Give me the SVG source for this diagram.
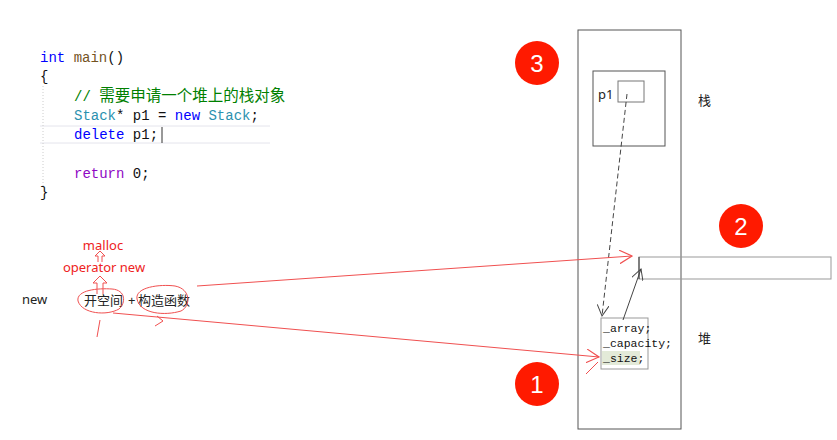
<svg xmlns="http://www.w3.org/2000/svg" width="837" height="440" viewBox="0 0 837 440">
<defs>
<style>
.code{font-family:"Liberation Mono","DejaVu Sans Mono","Noto Sans CJK SC",monospace;font-size:14px}
.lbl{font-family:"Noto Sans","Liberation Sans","Noto Sans CJK SC",sans-serif;font-size:13px;fill:#222}
.red{fill:#ee2222}
.mono{font-family:"Liberation Mono","DejaVu Sans Mono",monospace;font-size:11.5px;fill:#111}
.box{fill:none;stroke:#555;stroke-width:1}
.rl{fill:none;stroke:#f05050;stroke-width:1}
.num{font-family:"Liberation Sans","Noto Sans",sans-serif;font-size:24px;fill:#fff;text-anchor:middle}
</style>
<marker id="ah" viewBox="0 0 12 12" refX="11" refY="6" markerWidth="12" markerHeight="12" markerUnits="userSpaceOnUse" orient="auto">
<path d="M0,0 L11,6 L0,12" fill="none" stroke="#444" stroke-width="1"/>
</marker>
<marker id="rh" viewBox="0 0 12 12" refX="11" refY="6" markerWidth="14" markerHeight="14" markerUnits="userSpaceOnUse" orient="auto">
<path d="M0,0 L11,6 L0,12" fill="none" stroke="#f05050" stroke-width="1"/>
</marker>
</defs>
<rect width="837" height="440" fill="#fff"/>

<g id="code">
<line x1="40" y1="126" x2="270" y2="126" stroke="#e4e4ec"/>
<line x1="40" y1="143" x2="270" y2="143" stroke="#e4e4ec"/>
<line x1="43" y1="86" x2="43" y2="186" stroke="#ccc" stroke-dasharray="1,2"/>
<text class="code" x="40" y="62"><tspan fill="#0000ff">int</tspan> <tspan fill="#74531f">main</tspan><tspan fill="#111">()</tspan></text>
<text class="code" x="40" y="81" fill="#111">{</text>
<text class="code" x="74" y="101" fill="#008000">// <tspan font-size="15.5" font-family="Noto Sans CJK SC,sans-serif">需要申请一个堆上的栈对象</tspan></text>
<text class="code" x="74" y="120"><tspan fill="#2b91af">Stack</tspan><tspan fill="#111">* p1 = </tspan><tspan fill="#0000ff">new</tspan> <tspan fill="#2b91af">Stack</tspan><tspan fill="#111">;</tspan></text>
<text class="code" x="74" y="139"><tspan fill="#0000ff">delete</tspan><tspan fill="#111"> p1;</tspan></text>
<line x1="162" y1="127" x2="162" y2="143" stroke="#333"/>
<text class="code" x="74" y="178"><tspan fill="#8f08c4">return</tspan><tspan fill="#111"> 0;</tspan></text>
<text class="code" x="40" y="197" fill="#111">}</text>
</g>

<g id="new-labels">
<text class="lbl red" x="103" y="250" text-anchor="middle">malloc</text>
<text class="lbl red" x="104" y="272" text-anchor="middle">operator new</text>
<text class="lbl" x="22" y="304">new</text>
<text class="lbl" x="84" y="305">开空间</text>
<text class="lbl" x="128" y="305">+</text>
<text class="lbl" x="138" y="305">构造函数</text>
<path class="rl" d="M78,301 C76,290 98,288 112,289 C126,290 126,303 119,309 C107,316 82,314 78,301 Z"/>
<path class="rl" d="M137,299 C135,287 160,284 175,286 C191,289 191,306 181,311 C165,316 140,314 137,299 Z"/>
<path class="rl" d="M97,294 L97,283 L93,283 L100,276 L107,283 L103,283 L103,294"/>
<path class="rl" d="M98,262 L98,256 L95,256 L100,251 L105,256 L102,256 L102,262"/>
<line class="rl" x1="100" y1="320" x2="97" y2="337"/>
</g>

<g id="stack-frame">
<rect class="box" x="578" y="30" width="103" height="399"/>
<rect class="box" x="593" y="71" width="72" height="75"/>
<rect x="618" y="81" width="26" height="21" fill="none" stroke="#777"/>
<text class="lbl" x="598" y="99">p1</text>
<text class="lbl" x="698" y="105">栈</text>
<text class="lbl" x="698" y="343">堆</text>
</g>

<g id="heap-array">
<rect x="639" y="257" width="192" height="22" fill="none" stroke="#999"/>
<line x1="639" y1="257" x2="639" y2="279" stroke="#333"/>
</g>

<g id="heap-object">
<rect x="601" y="318" width="47" height="51" fill="none" stroke="#999"/>
<rect x="602" y="351" width="38" height="14" fill="#e3ead8"/>
<text class="mono" x="603" y="332">_array;</text>
<text class="mono" x="603" y="347">_capacity;</text>
<text class="mono" x="603" y="362">_size;</text>
</g>

<g id="badges">
<circle cx="537" cy="63" r="22" fill="#ff1a00"/>
<text class="num" x="537" y="72">3</text>
<circle cx="741" cy="226" r="22" fill="#ff1a00"/>
<text class="num" x="741" y="235">2</text>
<circle cx="537" cy="384" r="22" fill="#ff1a00"/>
<text class="num" x="537" y="393">1</text>
</g>

<g id="connectors">
<line x1="627" y1="94" x2="602" y2="316" stroke="#444" stroke-dasharray="5,3" marker-end="url(#ah)"/>
<line x1="623" y1="320" x2="641" y2="269" stroke="#444" marker-end="url(#ah)"/>
<line x1="197" y1="286" x2="632" y2="256" stroke="#f05050" marker-end="url(#rh)"/>
<line x1="113" y1="313" x2="599" y2="357" stroke="#f05050" marker-end="url(#rh)"/>
<path class="rl" d="M157,316 L163,321 L155,326"/>
<line class="rl" x1="598" y1="362" x2="586" y2="374"/>
</g>
</svg>
